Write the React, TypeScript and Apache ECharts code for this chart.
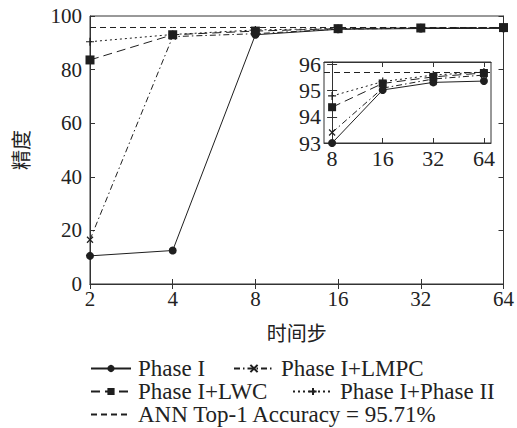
import React, { useEffect, useRef } from "react";
import * as echarts from "echarts";

const categories = ["2", "4", "8", "16", "32", "64"];
const insetCategories = ["8", "16", "32", "64"];
const phaseI = [10.5, 12.5, 93.0, 95.03, 95.32, 95.37];
const phaseLMPC = [16.5, 92.3, 93.4, 95.1, 95.45, 95.6];
const phaseLWC = [83.6, 93.0, 94.37, 95.28, 95.53, 95.68];
const phaseII = [90.4, 93.1, 94.8, 95.35, 95.6, 95.72];
const annTop1 = 95.71;
const insetYTicks = [93, 94, 95, 96];
const insetXTicks = [0, 1, 2, 3];

const NAME_I = "Phase I";
const NAME_LMPC = "Phase I+LMPC";
const NAME_LWC = "Phase I+LWC";
const NAME_II = "Phase I+Phase II";
const NAME_ANN = "ANN Top-1 Accuracy = 95.71%";

const FONT = "Liberation Serif";
const CJK = "Noto Sans CJK SC";
const C = "#1f1f1f";
const CROSS = "path://M0 0L10 10M10 0L0 10";
const PLUS = "path://M5 0L5 10M0 5L10 5";

const styles: Record<string, any> = {
  [NAME_I]: { symbol: "circle", symbolSize: 8, dash: "solid" },
  [NAME_LMPC]: { symbol: CROSS, symbolSize: 6, dash: [6, 3, 1.5, 3] },
  [NAME_LWC]: { symbol: "rect", symbolSize: 9, dash: [9, 5] },
  [NAME_II]: { symbol: PLUS, symbolSize: 8, dash: [2, 3] },
};

function lineSeries(name: string, data: any[], xi: number, yi: number, inset: boolean) {
  const s = styles[name];
  return {
    name,
    type: "line",
    xAxisIndex: xi,
    yAxisIndex: yi,
    data,
    symbol: s.symbol,
    symbolSize: inset && s.symbol === "rect" ? 8 : s.symbolSize,
    showSymbol: true,
    lineStyle: { color: C, width: 1, type: s.dash },
    itemStyle: { color: C, borderColor: C, borderWidth: s.symbol.startsWith("path") ? 1.2 : 0 },
    emphasis: { disabled: true },
  };
}

export default function App() {
  const ref = useRef<HTMLDivElement>(null);
  useEffect(() => {
    if (!ref.current) return;
    const chart = echarts.init(ref.current, undefined, { renderer: "svg" });
    const tickStyle = { color: "#333", width: 1 };
    const insetData = (arr: number[]) => arr.slice(2).map((v, i) => [insetXTicks[i], v]);
    const numLabel = { fontSize: 21, color: "#222", fontFamily: FONT, fontWeight: "normal" as const };
    const legendCommon = {
      padding: 0,
      itemWidth: 40,
      itemHeight: 9,
      itemGap: 0,
      selectedMode: false,
      textStyle: { fontSize: 23, color: "#222", fontFamily: FONT, padding: [0, 0, 0, 2] },
    };
    chart.setOption({
      animation: false,
      textStyle: { fontFamily: FONT },
      grid: [
        { left: 90, right: 11, top: 16, bottom: 144, show: true, borderColor: "#333", borderWidth: 1 },
        { left: 324, top: 62, width: 167, height: 81, show: true, borderColor: "#333", borderWidth: 1 },
      ],
      xAxis: [
        {
          gridIndex: 0,
          type: "category",
          data: categories,
          boundaryGap: false,
          axisLine: { lineStyle: tickStyle },
          axisTick: { inside: true, length: 5, lineStyle: tickStyle },
          axisLabel: { ...numLabel, margin: 4 },
          name: "时间步",
          nameLocation: "middle",
          nameGap: 38,
          nameTextStyle: { fontSize: 20, color: "#222", fontFamily: CJK, fontWeight: "normal" },
        },
        {
          gridIndex: 0,
          type: "category",
          data: categories,
          boundaryGap: false,
          position: "top",
          axisLine: { lineStyle: tickStyle },
          axisTick: { inside: true, length: 5, lineStyle: tickStyle },
          axisLabel: { show: false },
        },
        {
          gridIndex: 1,
          type: "value",
          min: -0.16,
          max: 3.14,
          splitLine: { show: false },
          axisLine: { lineStyle: tickStyle },
          axisTick: { inside: true, length: 5, lineStyle: tickStyle, customValues: insetXTicks },
          axisLabel: {
            ...numLabel,
            fontSize: 22,
            margin: 4,
            customValues: insetXTicks,
            formatter: (v: number) => insetCategories[Math.round(v)],
          },
        },
        {
          gridIndex: 1,
          type: "value",
          min: -0.16,
          max: 3.14,
          position: "top",
          splitLine: { show: false },
          axisLine: { lineStyle: tickStyle },
          axisTick: { inside: true, length: 5, lineStyle: tickStyle, customValues: insetXTicks },
          axisLabel: { show: false },
        },
      ],
      yAxis: [
        {
          gridIndex: 0,
          type: "value",
          min: 0,
          max: 100,
          interval: 20,
          splitLine: { show: false },
          axisLine: { show: true, lineStyle: tickStyle },
          axisTick: { show: true, inside: true, length: 5, lineStyle: tickStyle },
          axisLabel: { ...numLabel, margin: 8 },
          name: "精度",
          nameLocation: "middle",
          nameGap: 60,
          nameTextStyle: { fontSize: 20, color: "#222", fontFamily: CJK, fontWeight: "normal" },
        },
        {
          gridIndex: 0,
          type: "value",
          min: 0,
          max: 100,
          interval: 20,
          position: "right",
          splitLine: { show: false },
          axisLine: { show: true, lineStyle: tickStyle },
          axisTick: { show: true, inside: true, length: 5, lineStyle: tickStyle },
          axisLabel: { show: false },
        },
        {
          gridIndex: 1,
          type: "value",
          min: 93,
          max: 96.1,
          splitLine: { show: false },
          axisLine: { show: true, lineStyle: tickStyle },
          axisTick: { show: true, inside: true, length: 5, lineStyle: tickStyle, customValues: insetYTicks },
          axisLabel: { ...numLabel, fontSize: 22, margin: 3, customValues: insetYTicks },
        },
        {
          gridIndex: 1,
          type: "value",
          min: 93,
          max: 96.1,
          position: "right",
          splitLine: { show: false },
          axisLine: { show: true, lineStyle: tickStyle },
          axisTick: { show: true, inside: true, length: 5, lineStyle: tickStyle, customValues: insetYTicks },
          axisLabel: { show: false },
        },
      ],
      legend: [
        { ...legendCommon, data: [NAME_I], left: 90, top: 357 },
        { ...legendCommon, data: [NAME_LMPC], left: 233, top: 357 },
        { ...legendCommon, data: [NAME_LWC], left: 90, top: 380 },
        { ...legendCommon, data: [NAME_II], left: 292, top: 380 },
        {
          ...legendCommon,
          data: [{ name: NAME_ANN, itemStyle: { opacity: 0 } }],
          left: 90,
          top: 403,
        },
      ],
      series: [
        lineSeries(NAME_I, phaseI, 0, 0, false),
        lineSeries(NAME_LMPC, phaseLMPC, 0, 0, false),
        lineSeries(NAME_LWC, phaseLWC, 0, 0, false),
        lineSeries(NAME_II, phaseII, 0, 0, false),
        {
          name: NAME_ANN,
          type: "line",
          xAxisIndex: 0,
          yAxisIndex: 0,
          data: categories.map(() => annTop1),
          symbol: "none",
          lineStyle: { color: C, width: 1, type: [6, 4] },
          itemStyle: { color: C },
          emphasis: { disabled: true },
        },
        {
          name: NAME_ANN,
          type: "line",
          xAxisIndex: 2,
          yAxisIndex: 2,
          data: [],
          symbol: "none",
          lineStyle: { color: C, width: 1, type: [6, 4] },
          markLine: {
            silent: true,
            symbol: "none",
            label: { show: false },
            lineStyle: { color: C, width: 1, type: [6, 4] },
            data: [{ yAxis: annTop1 }],
          },
        },
        lineSeries(NAME_I, insetData(phaseI), 2, 2, true),
        lineSeries(NAME_LMPC, insetData(phaseLMPC), 2, 2, true),
        lineSeries(NAME_LWC, insetData(phaseLWC), 2, 2, true),
        lineSeries(NAME_II, insetData(phaseII), 2, 2, true),
      ],
    });
    return () => chart.dispose();
  }, []);
  return <div ref={ref} style={{ width: 517, height: 428, position: "absolute", left: 0, top: 0 }} />;
}
